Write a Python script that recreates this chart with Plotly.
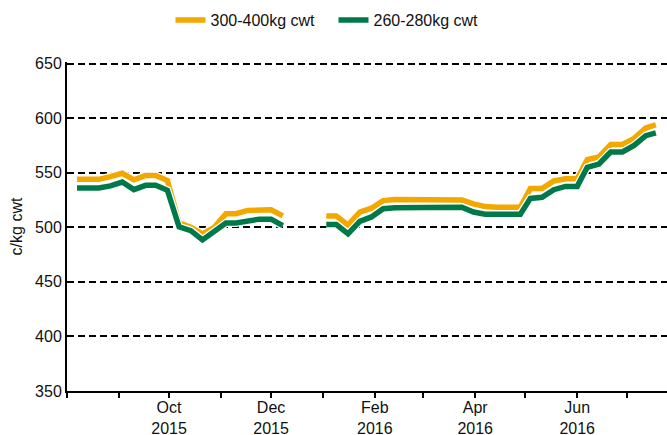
import plotly.graph_objects as go

dates = [
    "2015-08-07", "2015-08-13", "2015-08-20", "2015-08-27", "2015-09-03", "2015-09-10",
    "2015-09-17", "2015-09-23", "2015-09-30", "2015-10-07", "2015-10-14", "2015-10-21",
    "2015-10-28", "2015-11-04", "2015-11-10", "2015-11-17", "2015-11-24", "2015-12-01",
    "2015-12-08", "2015-12-20",
    "2016-01-03", "2016-01-09", "2016-01-16", "2016-01-23", "2016-01-30", "2016-02-06",
    "2016-02-13", "2016-02-19", "2016-02-26", "2016-03-04", "2016-03-11", "2016-03-18",
    "2016-03-24", "2016-03-31", "2016-04-07", "2016-04-14", "2016-04-21", "2016-04-28",
    "2016-05-04", "2016-05-11", "2016-05-18", "2016-05-25", "2016-06-01", "2016-06-07",
    "2016-06-14", "2016-06-21", "2016-06-28", "2016-07-05", "2016-07-12", "2016-07-18",
]

cwt_300_400 = [
    544, 544, 544, 546.5, 549.5, 543.5, 547.5, 547.5, 543, 504, 500, 494, 500, 512.5,
    512.5, 515.5, 516, 516, 510.5, None,
    510.3, 510.3, 502, 514, 517.5, 524.5, 525.5, 525.5, 525.5, 525, 525, 525, 525, 521.5,
    519, 518.5, 518.5, 518.5, 535.5, 535.5, 542.5, 544.5, 544.5, 562, 564.5, 576, 576,
    581.5, 591, 594,
]

cwt_260_280 = [
    536, 536, 536, 538, 541.5, 534.5, 538.5, 538.5, 534, 500.5, 497, 488.5, 496, 504,
    504, 506, 507.5, 507.5, 501.5, None,
    502.5, 502.5, 494, 505.5, 509.5, 517, 518, 518, 518, 518, 518.5, 518.5, 518.5, 514,
    512, 512, 512, 512, 526.5, 527.5, 534.5, 537.5, 537.5, 555, 558, 569, 569, 575,
    584, 586.5,
]

series_names = ["300-400kg cwt", "260-280kg cwt"]
series_colors = ["#F3A800", "#00794A"]

x_tick_vals = [
    "2015-08-01", "2015-09-01", "2015-10-01", "2015-11-01", "2015-12-01", "2016-01-01",
    "2016-02-01", "2016-03-01", "2016-04-01", "2016-05-01", "2016-06-01", "2016-07-01",
]
x_tick_text = [
    "", "", "Oct<br>2015", "", "Dec<br>2015", "", "Feb<br>2016", "", "Apr<br>2016", "",
    "Jun<br>2016", "",
]
y_ticks = [350, 400, 450, 500, 550, 600, 650]

font_family = "Liberation Sans, Arial, sans-serif"

fig = go.Figure()
for name, vals, color in zip(series_names, [cwt_300_400, cwt_260_280], series_colors):
    fig.add_trace(go.Scatter(
        x=dates, y=vals, mode="lines", showlegend=False, hoverinfo="skip",
        line=dict(color="white", width=8), connectgaps=False,
    ))
    fig.add_trace(go.Scatter(
        x=dates, y=vals, mode="lines", name=name,
        line=dict(color=color, width=5.5), connectgaps=False,
    ))

fig.update_layout(
    width=667, height=435,
    margin=dict(l=67, r=0, t=61.5, b=44, autoexpand=False),
    paper_bgcolor="white", plot_bgcolor="white",
    font=dict(family=font_family, size=16, color="#111111"),
    legend=dict(
        orientation="h", xref="container", yref="container",
        x=0.5, xanchor="center", y=0.954, yanchor="middle",
        font=dict(size=16), bgcolor="rgba(0,0,0,0)",
        entrywidth=118, entrywidthmode="pixels",
    ),
    xaxis=dict(
        type="date", automargin=False,
        range=["2015-08-01", "2016-07-24 16:00"],
        tickmode="array", tickvals=x_tick_vals, ticktext=x_tick_text,
        showline=True, linecolor="black", linewidth=2,
        ticks="outside", ticklen=5, tickwidth=1.5, tickcolor="black",
        showgrid=False, zeroline=False, ticklabelstandoff=-4,
        tickfont=dict(size=16),
    ),
    yaxis=dict(
        range=[350, 651.5], tickmode="array", tickvals=y_ticks, automargin=False,
        showline=True, linecolor="black", linewidth=2,
        showgrid=True, gridcolor="black", gridwidth=2, griddash="7px,4px",
        zeroline=False, ticks="", tickfont=dict(size=16),
        title=dict(text="c/kg cwt", font=dict(size=16), standoff=8),
    ),
)

fig.write_html(
    "out.html",
    config={"displayModeBar": False},
    post_script="document.body.style.margin='0';document.body.style.overflow='hidden';",
)
